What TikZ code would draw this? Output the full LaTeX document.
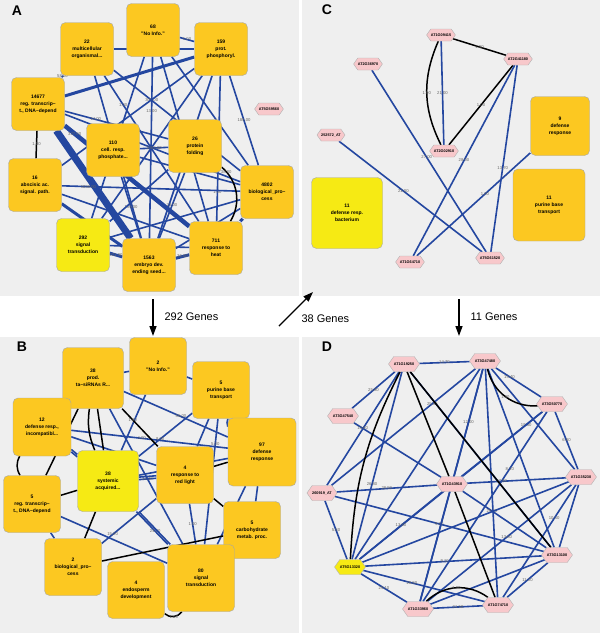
\documentclass[tikz,border=0pt]{standalone}
\usepackage{fontspec}
\setmainfont{Liberation Sans}
\usetikzlibrary{shapes.geometric, shapes.symbols, arrows.meta}
\usepackage{xcolor}
\definecolor{gocol}{HTML}{FCC821}
\definecolor{ylcol}{HTML}{F6EA14}
\definecolor{hexcol}{HTML}{F8C8CB}
\definecolor{bgcol}{HTML}{EFEFEF}
\definecolor{edgeblue}{HTML}{2447A0}
\pgfdeclarelayer{bg}
\pgfdeclarelayer{edges}
\pgfsetlayers{bg,edges,main}

\begin{document}
\begin{tikzpicture}[x=1pt, y=-1pt]
        % ================= 样式定义 =================
        \tikzset{
            % GO 方框 (橙黄)
            go_box/.style={rectangle, rounded corners=5pt, draw=black!35, fill=gocol, minimum size=53pt, inner sep=1pt, align=center, font=\bfseries\fontsize{5}{7}\selectfont},
            % 黄色方框
            yl_box/.style={go_box, fill=ylcol},
            % 基因六边形
            gene_hex/.style={signal, signal to=east and west, signal pointer angle=110, draw=black!30, fill=hexcol, minimum width=28pt, minimum height=12pt, inner sep=0pt, font=\bfseries\fontsize{3.8}{4}\selectfont},
            % 蓝色普通边
            blue_edge/.style={line width=1.6pt, edgeblue},
            mid_edge/.style={line width=3pt, edgeblue},
            fat_edge/.style={line width=4.5pt, edgeblue},
            huge_edge/.style={line width=7pt, edgeblue},
            % 黑色边
            black_edge/.style={line width=1.5pt, black},
            % 边上的数字
            elab/.style={font=\fontsize{4.2}{4.5}\selectfont, text=black!60, inner sep=0.5pt},
            panel_lab/.style={font=\bfseries\fontsize{14}{14}\selectfont},
            gene_arrow/.style={line width=1.4pt, -{Triangle[width=7pt, length=10pt]}},
            gene_txt/.style={font=\fontsize{11}{11}\selectfont, anchor=west}
        }

        \useasboundingbox (0,0) rectangle (600,633);
        \begin{pgfonlayer}{bg}
            \fill[white] (0,0) rectangle (600,633);
            \fill[bgcol] (0,0) rectangle (299,296);
            \fill[bgcol] (302,0) rectangle (600,296);
            \fill[bgcol] (0,337) rectangle (299,633);
            \fill[bgcol] (302,337) rectangle (600,633);
        \end{pgfonlayer}

        % ================= A =================
        \node[panel_lab] (labA) at (17,11) {A};
        \node[go_box] (a68) at (153,30) {68\\"No Info."};
        \node[go_box] (a22) at (87,49) {22\\multicellular\\organismal...};
        \node[go_box] (a159) at (221,49) {159\\prot.\\phosphoryl.};
        \node[go_box] (a14677) at (38,104) {14677\\reg. transcrip--\\t., DNA--depend};
        \node[go_box] (a110) at (113,150) {110\\cell. resp.\\phosphate...};
        \node[go_box] (a26) at (195,146) {26\\protein\\folding};
        \node[gene_hex] (ahex) at (269,109) {AT5G59560};
        \node[go_box] (a16) at (35,185) {16\\abscisic ac.\\signal. path.};
        \node[go_box] (a4802) at (267,192) {4802\\biological\_pro--\\cess};
        \node[yl_box] (a292) at (83,245) {292\\signal\\transduction};
        \node[go_box] (a1563) at (149,265) {1563\\embryo dev.\\ending seed...};
        \node[go_box] (a711) at (216,248) {711\\response to\\heat};

        \begin{pgfonlayer}{edges}
        \draw[huge_edge] (a14677) -- (a1563);
        \draw[fat_edge] (a14677) -- node[elab, pos=0.08] {327.00} (a711);
        \draw[mid_edge] (a14677) -- (a159);
        \draw[mid_edge] (a1563) -- node[elab] {36.00} (a711);
        \draw[mid_edge] (a292) -- node[elab] {221.00} (a1563);
        \draw[mid_edge] (a16) -- node[elab, pos=0.6] {5.00} (a1563);
        \draw[mid_edge] (a711) -- (a4802);
        \draw[blue_edge] (a22) -- node[elab] {58.00} (a14677);
        \draw[blue_edge] (a22) -- node[elab, pos=0.3] {308.00} (a4802);
        \draw[blue_edge] (a22) -- (a159);
        \draw[blue_edge] (a22) -- (a1563);
        \draw[blue_edge] (a22) -- node[elab, pos=0.2] {1.00} (a711);
        \draw[blue_edge] (a68) -- node[elab] {1.00} (a159);
        \draw[blue_edge] (a68) -- (a292);
        \draw[blue_edge] (a68) -- node[elab, pos=0.3] {13.00} (a1563);
        \draw[blue_edge] (a68) -- (a711);
        \draw[blue_edge] (a68) -- (a4802);
        \draw[blue_edge] (a159) -- (a16);
        \draw[blue_edge] (a159) -- (a292);
        \draw[blue_edge] (a159) -- node[elab, pos=0.3] {1.00} (a1563);
        \draw[blue_edge] (a159) -- node[elab, pos=0.8] {1.00} (a711);
        \draw[blue_edge] (a159) -- node[elab] {185.00} (a4802);
        \draw[blue_edge] (a14677) -- (a4802);
        \draw[blue_edge] (a14677) -- node[elab, pos=0.3] {14.00} (a26);
        \draw[blue_edge] (a110) -- (a4802);
        \draw[blue_edge] (a110) -- node[elab] {1063.00} (a26);
        \draw[blue_edge] (a110) -- node[elab] {185.00} (a1563);
        \draw[blue_edge] (a26) -- node[elab] {23.00} (a1563);
        \draw[blue_edge] (a26) -- (a292);
        \draw[blue_edge] (a16) -- node[elab, pos=0.15] {1030.00} (a4802);
        \draw[blue_edge] (a16) -- (a711);
        \draw[blue_edge] (a292) -- (a4802);
        \draw[blue_edge] (a292) -- (a711);
        \draw[blue_edge] (a1563) -- node[elab] {28.00} (a4802);
        \draw[black_edge] (a14677) -- node[elab] {1.00} (a16);
        \draw[black_edge] (a26) to[bend left=40] node[elab, pos=0.1] {38.00} (a711);
        \end{pgfonlayer}

        % ================= C =================
        \node[panel_lab] (labC) at (327,10) {C};
        \node[gene_hex] (c1) at (441,35) {AT1G09415};
        \node[gene_hex] (c2) at (518,59) {AT2G41180};
        \node[gene_hex] (c3) at (368,64) {AT2G36970};
        \node[gene_hex] (c4) at (331,135) {252572\_AT};
        \node[gene_hex] (c5) at (444,151) {AT2G02910};
        \node[gene_hex] (c6) at (410,262) {AT1G64710};
        \node[gene_hex] (c7) at (490,258) {AT5G61520};
        \node[go_box, minimum size=59pt] (cdef) at (560,126) {9\\defense\\response};
        \node[go_box, minimum size=72pt] (cpur) at (549,205) {11\\purine base\\transport};
        \node[yl_box, minimum size=71pt] (cbac) at (347,213) {11\\defense resp.\\bacterium};

        \begin{pgfonlayer}{edges}
        \draw[black_edge] (c1) -- node[elab] {1.00} (c2);
        \draw[black_edge] (c1) to[bend right=25] node[elab] {1.00} (c5);
        \draw[blue_edge] (c1) -- node[elab] {21.00} (c5);
        \draw[black_edge] (c2) -- node[elab] {1.00} (c5);
        \draw[blue_edge] (c2) -- node[elab, pos=0.5] {28.00} (c6);
        \draw[blue_edge] (c2) -- node[elab, pos=0.55] {13.70} (c7);
        \draw[blue_edge] (c3) -- node[elab, pos=0.48] {27.00} (c7);
        \draw[blue_edge] (c4) -- node[elab, pos=0.45] {21.00} (c7);
        \draw[blue_edge] (cdef) -- node[elab, pos=0.4] {1.00} (c6);
        \end{pgfonlayer}

        % ================= 中间箭头 =================
        \coordinate (g1s) at (153,299);
        \coordinate (g1e) at (153,336);
        \coordinate (g2s) at (279,326);
        \coordinate (g2e) at (313,292);
        \coordinate (g3s) at (459,299);
        \coordinate (g3e) at (459,336);
        \draw[gene_arrow] (g1s) -- (g1e);
        \draw[gene_arrow] (g2s) -- (g2e);
        \draw[gene_arrow] (g3s) -- (g3e);
        \node[gene_txt] (g1t) at (161,317) {292 Genes};
        \node[gene_txt] (g2t) at (298,319) {38 Genes};
        \node[gene_txt] (g3t) at (467,317) {11 Genes};

        % ================= B =================
        \node[panel_lab] (labB) at (22,347) {B};
        \node[go_box, minimum size=57pt] (bNo) at (158,366) {2\\"No Info."};
        \node[go_box, minimum size=61pt] (bProd) at (93,378) {38\\prod.\\ta--siRNAs R...};
        \node[go_box, minimum size=57pt] (bPur) at (221,390) {5\\purine base\\transport};
        \node[go_box, minimum size=58pt] (bDef12) at (42,427) {12\\defense resp.,\\incompatibl...};
        \node[go_box, minimum size=68pt] (bDef97) at (262,452) {97\\defense\\response};
        \node[yl_box, minimum size=61pt] (bSys) at (108,481) {38\\systemic\\acquired...};
        \node[go_box, minimum size=57pt] (bRed) at (185,475) {4\\response to\\red light};
        \node[go_box, minimum size=57pt] (bReg) at (32,504) {5\\reg. transcrip--\\t., DNA--depend};
        \node[go_box, minimum size=57pt] (bCarb) at (252,530) {5\\carbohydrate\\metab. proc.};
        \node[go_box, minimum size=57pt] (bBio) at (73,567) {2\\biological\_pro--\\cess};
        \node[go_box, minimum size=67pt] (bSig) at (201,578) {80\\signal\\transduction};
        \node[go_box, minimum size=57pt] (bEndo) at (136,590) {4\\endosperm\\development};

        \begin{pgfonlayer}{edges}
        \draw[blue_edge] (bProd) -- (bNo);
        \draw[blue_edge] (bNo) -- (bPur);
        \draw[blue_edge] (bProd) -- node[elab, pos=0.55] {56.00} (bDef97);
        \draw[blue_edge] (bDef12) -- node[elab, pos=0.45] {4.00} (bDef97);
        \draw[blue_edge, transform canvas={yshift=-1pt}] (bDef12) -- (bSys);
        \draw[blue_edge, transform canvas={yshift=1.5pt}] (bDef12) -- (bSys);
        \draw[blue_edge] (bNo) -- (bSys);
        \draw[blue_edge] (bPur) -- node[elab, pos=0.6] {9.00} (bSys);
        \draw[blue_edge, transform canvas={yshift=-1pt}] (bSys) -- node[elab] {24.00} (bRed);
        \draw[blue_edge, transform canvas={yshift=1.5pt}] (bSys) -- (bRed);
        \draw[blue_edge] (bSys) -- (bDef97);
        \draw[blue_edge, transform canvas={xshift=-1pt}] (bSys) -- node[elab, pos=0.6] {24.00} (bSig);
        \draw[blue_edge, transform canvas={xshift=1.5pt}] (bSys) -- (bSig);
        \draw[blue_edge] (bReg) -- (bSig);
        \draw[blue_edge] (bBio) -- node[elab, pos=0.2] {15.00} (bRed);
        \draw[blue_edge] (bRed) -- node[elab] {1.00} (bSig);
        \draw[blue_edge] (bDef97) -- (bCarb);
        \draw[blue_edge] (bDef97) -- (bSig);
        \draw[blue_edge] (bCarb) -- (bSig);
        \draw[blue_edge] (bProd) -- (bSig);
        \draw[blue_edge] (bPur) -- (bRed);
        \draw[blue_edge] (bPur) -- node[elab, pos=0.2] {5.00} (bSig);
        \draw[blue_edge] (bPur) to[bend right=20] (bDef97);
        \draw[blue_edge] (bDef12) -- node[elab, pos=0.6] {5.00} (bRed);
        \draw[blue_edge] (bReg) -- (bBio);
        \draw[black_edge] (bProd) -- node[elab, pos=0.3] {1.00} (bRed);
        \draw[black_edge] (bProd) -- (bSys);
        \draw[black_edge] (bProd) to[bend right=15] (bSys);
        \draw[black_edge] (bProd) -- (bReg);
        \draw[black_edge] (bDef12) to[bend right=30] (bReg);
        \draw[black_edge] (bReg) -- (bSys);
        \draw[black_edge] (bSys) -- (bBio);
        \draw[black_edge] (bBio) -- (bCarb);
        \draw[black_edge] (bRed) -- (bCarb);
        \draw[black_edge] (bRed) -- (bDef97);
        \draw[black_edge] (bEndo) to[bend right=50] node[elab] {1.00} (bSig);
        \end{pgfonlayer}

        % ================= D =================
        \node[panel_lab] (labD) at (327,347) {D};
        \node[gene_hex, minimum width=30pt, minimum height=15pt] (d1) at (404,364) {AT1G19250};
        \node[gene_hex, minimum width=30pt, minimum height=15pt] (d2) at (485,361) {AT3G47480};
        \node[gene_hex, minimum width=30pt, minimum height=15pt] (d3) at (552,404) {AT3G50770};
        \node[gene_hex, minimum width=30pt, minimum height=15pt] (d4) at (343,416) {AT3G47540};
        \node[gene_hex, minimum width=30pt, minimum height=15pt] (d5) at (322,493) {260919\_AT};
        \node[gene_hex, minimum width=30pt, minimum height=15pt] (d6) at (452,484) {AT1G43910};
        \node[gene_hex, minimum width=30pt, minimum height=15pt] (d7) at (581,477) {AT1G35230};
        \node[gene_hex, minimum width=30pt, minimum height=15pt, fill=ylcol] (d8) at (350,567) {AT5G13320};
        \node[gene_hex, minimum width=30pt, minimum height=15pt] (d9) at (557,555) {AT3G13100};
        \node[gene_hex, minimum width=30pt, minimum height=15pt] (d10) at (418,609) {AT1G33960};
        \node[gene_hex, minimum width=30pt, minimum height=15pt] (d11) at (498,605) {AT1G74710};

        \begin{pgfonlayer}{edges}
        \draw[blue_edge] (d1) -- node[elab] {14.70} (d2);
        \draw[blue_edge] (d1) -- node[elab] {25.80} (d4);
        \draw[blue_edge] (d1) -- (d5);
        \draw[blue_edge] (d1) -- node[elab, pos=0.6] {26.80} (d8);
        \draw[blue_edge] (d1) -- (d9);
        \draw[blue_edge] (d2) -- node[elab, pos=0.3] {15.40} (d3);
        \draw[blue_edge] (d2) -- node[elab, pos=0.3] {25.80} (d5);
        \draw[blue_edge] (d2) -- node[elab] {12.00} (d6);
        \draw[blue_edge] (d2) -- (d8);
        \draw[blue_edge] (d2) -- (d10);
        \draw[blue_edge] (d2) -- (d11);
        \draw[blue_edge] (d2) -- (d9);
        \draw[blue_edge] (d2) -- (d7);
        \draw[blue_edge] (d3) -- node[elab, pos=0.2] {19.80} (d6);
        \draw[blue_edge] (d3) -- node[elab] {6.80} (d7);
        \draw[blue_edge] (d3) -- node[elab, pos=0.3] {8.10} (d10);
        \draw[blue_edge] (d3) -- (d8);
        \draw[blue_edge] (d4) -- node[elab, pos=0.1] {13.80} (d6);
        \draw[blue_edge] (d5) -- node[elab] {28.50} (d6);
        \draw[blue_edge] (d5) -- node[elab] {5.80} (d8);
        \draw[blue_edge] (d5) -- node[elab, pos=0.5] {9.90} (d9);
        \draw[blue_edge] (d6) -- node[elab, pos=0.35] {27.80} (d7);
        \draw[blue_edge] (d6) -- node[elab] {13.50} (d8);
        \draw[blue_edge] (d6) -- node[elab, pos=0.35] {25.80} (d9);
        \draw[blue_edge] (d6) -- (d10);
        \draw[blue_edge] (d7) -- (d8);
        \draw[blue_edge] (d7) -- node[elab, pos=0.45] {13.60} (d10);
        \draw[blue_edge] (d7) -- node[elab, pos=0.3] {10.40} (d11);
        \draw[blue_edge] (d7) -- (d9);
        \draw[blue_edge] (d8) -- node[elab, pos=0.45] {9.10} (d9);
        \draw[blue_edge] (d8) -- node[elab] {29.10} (d10);
        \draw[blue_edge] (d8) -- node[elab, pos=0.4] {28.80} (d11);
        \draw[blue_edge] (d9) -- node[elab] {11.10} (d11);
        \draw[blue_edge] (d9) -- (d10);
        \draw[blue_edge] (d10) -- node[elab] {21.50} (d11);
        \draw[black_edge] (d1) to[bend right=12] (d8);
        \draw[black_edge] (d1) -- (d6);
        \draw[black_edge] (d1) -- (d9);
        \draw[black_edge] (d6) -- (d11);
        \draw[black_edge] (d2) to[bend right=40] node[elab] {1.00} (d3);
        \draw[black_edge] (d10) to[bend left=40] node[elab] {1.00} (d11);
        \end{pgfonlayer}

    \end{tikzpicture}
\end{document}
